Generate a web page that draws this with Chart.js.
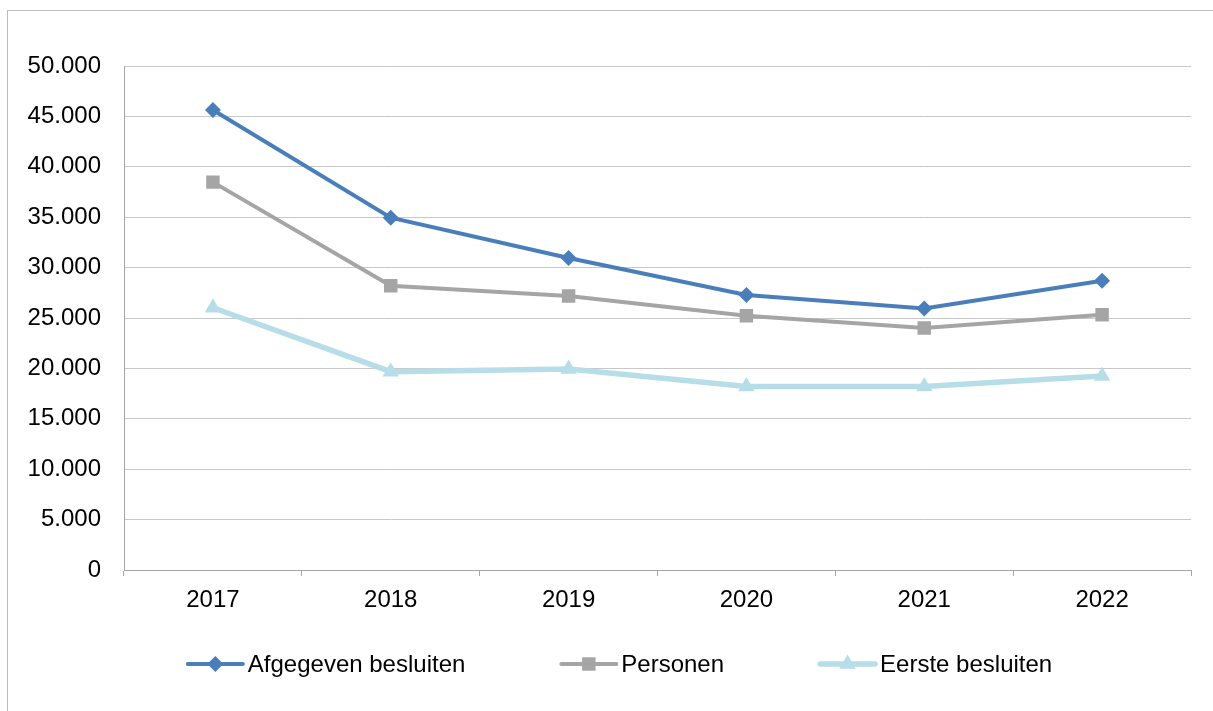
<!DOCTYPE html>
<html>
<head>
<meta charset="utf-8">
<script src="https://cdn.jsdelivr.net/npm/chart.js@4"></script>
<style>
  html, body { margin: 0; padding: 0; background: #fff; }
  #wrap { position: relative; width: 1213px; height: 711px; overflow: hidden; }
  #frame { position: absolute; left: 7px; top: 10px; width: 1230px; height: 730px; border: 1.5px solid #bdbdbd; }
  canvas { position: absolute; left: 0; top: 0; }
</style>
</head>
<body>
<div id="wrap">
  <div id="frame"></div>
  <canvas id="grafiek" width="1213" height="711"></canvas>
</div>
<script>
// Jaren (categorieën)
const jaren = ['2017', '2018', '2019', '2020', '2021', '2022'];

// Reeksen
const afgegevenBesluiten = [45630, 34950, 30950, 27280, 25950, 28700];
const personen = [38480, 28200, 27180, 25230, 24010, 25320];
const eersteBesluiten = [26020, 19680, 19940, 18210, 18210, 19250];

const reeksNamen = ['Afgegeven besluiten', 'Personen', 'Eerste besluiten'];

// Getal met punt als duizendtal-scheiding
const formatNL = (v) => v.toString().replace(/\B(?=(\d{3})+(?!\d))/g, '.');

const FONT = "'Liberation Sans', Arial, sans-serif";
const FONT_SIZE = 24;

// Legenda onderaan, lijn met marker zoals in Excel
const legendaPlugin = {
    id: 'legenda',
    afterDraw(chart) {
        const c = chart.ctx;
        const y = 664;
        const lijnBreedte = 55;
        const tussen = 96;
        c.save();
        c.font = FONT_SIZE + 'px ' + FONT;
        const items = chart.data.datasets.map(ds => ({ ds, w: lijnBreedte + 5 + c.measureText(ds.label).width }));
        const totaal = items.reduce((s, it) => s + it.w, 0) + tussen * (items.length - 1);
        let x = 620 - totaal / 2;
        items.forEach(({ ds, w }) => {
            c.strokeStyle = ds.borderColor;
            c.lineWidth = ds.borderWidth;
            c.lineCap = 'round';
            c.beginPath();
            c.moveTo(x, y);
            c.lineTo(x + lijnBreedte, y);
            c.stroke();
            c.fillStyle = ds.pointBackgroundColor;
            c.strokeStyle = ds.pointBackgroundColor;
            Chart.helpers.drawPoint(c, { pointStyle: ds.pointStyle, radius: ds.pointRadius, rotation: 0, borderWidth: 0 }, x + lijnBreedte / 2, y);
            c.fillStyle = '#000';
            c.textBaseline = 'middle';
            c.textAlign = 'left';
            c.fillText(ds.label, x + lijnBreedte + 5, y + 1);
            x += w + tussen;
        });
        c.restore();
    }
};

const ctx = document.getElementById('grafiek').getContext('2d');
new Chart(ctx, {
    type: 'line',
    data: {
        labels: jaren,
        datasets: [
            {
                label: reeksNamen[0],
                data: afgegevenBesluiten,
                borderColor: '#4a7ebb',
                borderWidth: 4,
                pointStyle: 'rectRot',
                pointRadius: 8,
                pointBackgroundColor: '#4a7ebb',
                pointBorderWidth: 0,
                tension: 0
            },
            {
                label: reeksNamen[1],
                data: personen,
                borderColor: '#a5a5a5',
                borderWidth: 4,
                pointStyle: 'rect',
                pointRadius: 9.5,
                pointBackgroundColor: '#a5a5a5',
                pointBorderWidth: 0,
                tension: 0
            },
            {
                label: reeksNamen[2],
                data: eersteBesluiten,
                borderColor: '#b7dee8',
                borderWidth: 5.5,
                pointStyle: 'triangle',
                pointRadius: 9.5,
                pointBackgroundColor: '#b7dee8',
                pointBorderWidth: 0,
                tension: 0
            }
        ]
    },
    options: {
        responsive: false,
        animation: false,
        layout: { padding: { top: 66, right: 22, left: 0, bottom: 0 } },
        plugins: {
            legend: { display: false },
            tooltip: { enabled: false }
        },
        scales: {
            x: {
                offset: true,
                grid: {
                    offset: true,
                    drawOnChartArea: false,
                    drawTicks: true,
                    tickLength: 6,
                    color: '#a6a6a6'
                },
                border: { color: '#a6a6a6', width: 1 },
                ticks: { color: '#000', padding: 10, font: { family: FONT, size: FONT_SIZE } },
                afterFit: (scale) => { scale.height = 141; }
            },
            y: {
                min: 0,
                max: 50000,
                ticks: {
                    stepSize: 5000,
                    color: '#000',
                    padding: 23,
                    font: { family: FONT, size: FONT_SIZE },
                    callback: (v) => formatNL(v)
                },
                grid: { color: '#c8c8c8', drawTicks: false, lineWidth: 1 },
                border: { color: '#a6a6a6', width: 1 },
                afterFit: (scale) => { scale.width = 124; }
            }
        }
    },
    plugins: [legendaPlugin]
});
</script>
</body>
</html>
